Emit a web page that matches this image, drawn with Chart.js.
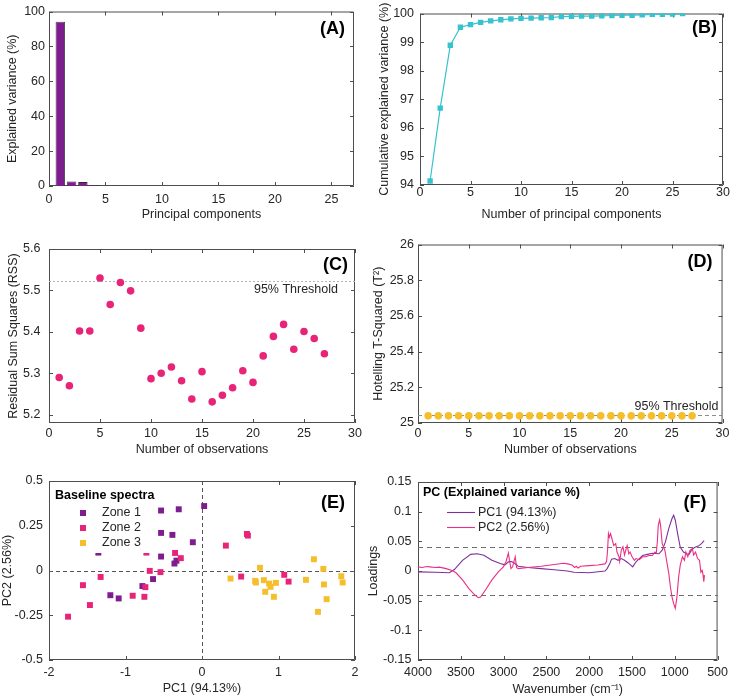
<!DOCTYPE html>
<html>
<head>
<meta charset="utf-8">
<script src="https://cdn.jsdelivr.net/npm/chart.js@4.4.1/dist/chart.umd.min.js"></script>
<style>
  html, body { margin: 0; padding: 0; background: #fff; }
  #fig { position: relative; width: 733px; height: 699px; overflow: hidden; background: #fff; }
  #fig canvas { position: absolute; }
</style>
</head>
<body>
<div id="fig">
  <canvas id="cA" width="366" height="233" style="left:0;top:0"></canvas>
  <canvas id="cB" width="367" height="233" style="left:366px;top:0"></canvas>
  <canvas id="cC" width="366" height="233" style="left:0;top:233px"></canvas>
  <canvas id="cD" width="367" height="233" style="left:366px;top:233px"></canvas>
  <canvas id="cE" width="366" height="233" style="left:0;top:466px"></canvas>
  <canvas id="cF" width="367" height="233" style="left:366px;top:466px"></canvas>
</div>
<script>
// ---- data ----
const pcIndex = [1, 2, 3, 4, 5, 6, 7, 8, 9, 10, 11, 12, 13, 14, 15, 16, 17, 18, 19, 20, 21, 22, 23, 24, 25, 26];
const explainedVar = [94.13, 2.56, 2.23, 0.63, 0.09, 0.08, 0.05, 0.04, 0.03, 0.02, 0.01, 0.01, 0.01, 0.03, 0.01, 0.01, 0.00, 0.01, 0.01, 0.01, 0.00, 0.01, 0.02, 0.00, 0.01, 0.02];
const cumulativeVar = [94.14, 96.69, 98.89, 99.52, 99.61, 99.69, 99.74, 99.78, 99.81, 99.83, 99.84, 99.85, 99.86, 99.89, 99.90, 99.91, 99.91, 99.92, 99.93, 99.94, 99.94, 99.95, 99.97, 99.97, 99.98, 100.0];

const obsIndex = [1, 2, 3, 4, 5, 6, 7, 8, 9, 10, 11, 12, 13, 14, 15, 16, 17, 18, 19, 20, 21, 22, 23, 24, 25, 26, 27];
const rss = [5.290, 5.270, 5.402, 5.402, 5.530, 5.466, 5.519, 5.499, 5.409, 5.287, 5.300, 5.315, 5.282, 5.238, 5.304, 5.231, 5.247, 5.265, 5.306, 5.278, 5.342, 5.389, 5.418, 5.358, 5.401, 5.384, 5.347];
const rssThreshold = 5.523;
const hotellingT2 = [25.04, 25.04, 25.04, 25.04, 25.04, 25.04, 25.04, 25.04, 25.04, 25.04, 25.04, 25.04, 25.04, 25.04, 25.04, 25.04, 25.04, 25.04, 25.04, 25.04, 25.04, 25.04, 25.04, 25.04, 25.04, 25.04, 25.04];
const t2Threshold = 25.043;

const zone1PC1 = [-0.535, -0.304, 0.028, -0.535, -0.387, -0.120, -1.355, -0.535, -0.360, -0.334, -0.640, -0.779, -1.198, -1.089];
const zone1PC2 = [0.335, 0.342, 0.360, 0.210, 0.199, 0.158, 0.100, 0.078, 0.039, 0.055, -0.048, -0.087, -0.138, -0.156];
const zone2PC1 = [-1.751, -1.556, -1.465, -1.325, -0.906, -0.753, -0.740, -0.727, -0.683, -0.543, -0.352, -0.277, 0.312, 0.587, 0.600, 0.512, 1.075, 1.132];
const zone2PC2 = [-0.258, -0.082, -0.193, -0.036, -0.141, -0.147, -0.093, 0.100, -0.002, -0.009, 0.098, 0.069, 0.139, 0.204, 0.195, -0.034, -0.024, -0.062];
const zone3PC1 = [0.757, 0.373, 0.695, 0.704, 0.809, 0.878, 0.966, 0.896, 0.826, 0.940, 1.359, 1.463, 1.586, 1.594, 1.629, 1.516, 1.821, 1.839];
const zone3PC2 = [0.015, -0.045, -0.058, -0.067, -0.054, -0.073, -0.069, -0.091, -0.119, -0.147, -0.052, 0.063, 0.009, -0.078, -0.160, -0.231, -0.032, -0.067];

const pc1Wave = [4000, 3800, 3633, 3575, 3480, 3384, 3308, 3231, 3136, 3040, 2983, 2944, 2906, 2868, 2830, 2715, 2562, 2409, 2256, 2179, 2000, 1815, 1790, 1760, 1739, 1701, 1663, 1625, 1587, 1548, 1491, 1453, 1414, 1376, 1319, 1261, 1185, 1147, 1109, 1070, 1032, 1013, 994, 963, 936, 898, 860, 833, 802, 764, 726, 688, 657];
const pc1Load = [-0.0015, -0.002, -0.003, 0.0025, 0.018, 0.028, 0.029, 0.0266, 0.018, 0.0126, 0.0103, 0.0154, 0.016, 0.0126, 0.008, 0.006, 0.004, 0.002, 0.0, -0.002, -0.003, 0.0, 0.004, 0.012, 0.020, 0.021, 0.018, 0.021, 0.018, 0.014, 0.007, 0.0155, 0.021, 0.026, 0.028, 0.030, 0.029, 0.035, 0.049, 0.072, 0.0885, 0.094, 0.0856, 0.060, 0.040, 0.032, 0.029, 0.028, 0.036, 0.040, 0.042, 0.046, 0.051];
const pc2Wave = [4000, 3950, 3900, 3862, 3800, 3750, 3671, 3594, 3556, 3480, 3403, 3346, 3296, 3269, 3212, 3136, 3059, 3002, 2971, 2944, 2929, 2914, 2895, 2876, 2864, 2849, 2830, 2715, 2562, 2409, 2300, 2250, 2200, 2170, 2150, 2130, 2100, 2000, 1900, 1815, 1797, 1785, 1775, 1765, 1751, 1728, 1713, 1690, 1675, 1652, 1644, 1625, 1606, 1587, 1567, 1556, 1537, 1522, 1499, 1472, 1453, 1414, 1376, 1338, 1300, 1261, 1231, 1216, 1204, 1193, 1177, 1166, 1147, 1116, 1089, 1070, 1051, 1032, 1013, 994, 975, 955, 936, 910, 887, 871, 848, 822, 795, 780, 757, 734, 711, 695, 680, 669, 661, 653];
const pc2Load = [0.007, 0.006, 0.0075, 0.007, 0.006, 0.0065, 0.004, 0.0005, -0.003, -0.015, -0.030, -0.039, -0.045, -0.044, -0.032, -0.015, -0.001, 0.007, 0.016, 0.030, 0.016, 0.004, 0.007, 0.018, 0.024, 0.006, 0.004, 0.006, 0.008, 0.011, 0.013, 0.012, 0.010, 0.006, 0.008, 0.005, 0.008, 0.009, 0.010, 0.012, 0.016, 0.035, 0.063, 0.057, 0.063, 0.051, 0.043, 0.046, 0.032, 0.024, 0.016, 0.035, 0.041, 0.027, 0.038, 0.043, 0.029, 0.032, 0.024, 0.018, 0.021, 0.019, 0.024, 0.024, 0.026, 0.026, 0.032, 0.030, 0.049, 0.077, 0.086, 0.077, 0.046, 0.035, 0.012, -0.004, -0.027, -0.044, -0.055, -0.063, -0.044, -0.010, 0.010, 0.024, 0.018, 0.032, 0.024, 0.035, 0.038, 0.027, 0.032, 0.021, 0.018, -0.002, 0.001, -0.007, -0.018, -0.007];
const loadingLimit = 0.04;

// tick values
const ticksA_x = [0, 5, 10, 15, 20, 25];
const ticksA_y = [0, 20, 40, 60, 80, 100];
const ticksObs_x = [0, 5, 10, 15, 20, 25, 30];
const ticksB_y = [94, 95, 96, 97, 98, 99, 100];
const ticksC_y = [5.2, 5.3, 5.4, 5.5, 5.6];
const ticksD_y = [25, 25.2, 25.4, 25.6, 25.8, 26];
const ticksE_x = [-2, -1, 0, 1, 2];
const ticksE_y = [-0.5, -0.25, 0, 0.25, 0.5];
const ticksF_x = [4000, 3500, 3000, 2500, 2000, 1500, 1000, 500];
const ticksF_y = [-0.15, -0.1, -0.05, 0, 0.05, 0.1, 0.15];

// ---- style ----
const FONT = '"Liberation Sans", Arial, Helvetica, sans-serif';
const TEXT = '#262626';
const AXIS = '#4d4d4d';
const PURPLE = '#7E1E8E';
const PINK = '#E82479';
const YELLOW = '#F5BE2B';
const CYAN = '#36C2CE';

Chart.defaults.font.family = FONT;
Chart.defaults.font.size = 12.5;
Chart.defaults.color = TEXT;
Chart.defaults.animation = false;
Chart.defaults.responsive = false;
Chart.defaults.plugins.legend.display = false;
Chart.defaults.plugins.tooltip.enabled = false;

function linScale(o) {
    return {
        type: 'linear',
        min: o.min, max: o.max,
        reverse: !!o.reverse,
        offset: false,
        afterBuildTicks: s => { s.ticks = o.ticks.map(v => ({ value: v })); },
        afterFit: s => { if (s.isHorizontal()) s.height = o.size; else s.width = o.size; },
        grid: { display: false, drawTicks: false, offset: false },
        border: { display: false },
        ticks: { padding: o.tickPad, color: TEXT, autoSkip: false, maxRotation: 0, callback: v => String(v) },
        title: { display: true, text: o.title, color: TEXT, padding: { top: o.titlePad, bottom: o.titlePad } }
    };
}

// MATLAB-like box with inward ticks on all four sides
const framePlugin = {
    id: 'frame',
    beforeDatasetsDraw(chart) {
        const { ctx, chartArea: a, scales: { x, y } } = chart;
        const len = 4;
        ctx.save();
        ctx.strokeStyle = AXIS;
        ctx.lineWidth = 1;
        ctx.beginPath();
        ctx.rect(a.left + 0.5, a.top + 0.5, a.width - 1, a.height - 1);
        x.ticks.forEach(t => {
            const px = Math.round(x.getPixelForValue(t.value)) + 0.5;
            ctx.moveTo(px, a.bottom); ctx.lineTo(px, a.bottom - len);
            ctx.moveTo(px, a.top); ctx.lineTo(px, a.top + len);
        });
        y.ticks.forEach(t => {
            const py = Math.round(y.getPixelForValue(t.value)) + 0.5;
            ctx.moveTo(a.left, py); ctx.lineTo(a.left + len, py);
            ctx.moveTo(a.right, py); ctx.lineTo(a.right - len, py);
        });
        ctx.stroke();
        ctx.restore();
    }
};

function panelLabel(text, dx, dy) {
    return {
        id: 'panelLabel',
        afterDraw(chart) {
            const { ctx, chartArea: a } = chart;
            ctx.save();
            ctx.font = 'bold 18px ' + FONT;
            ctx.fillStyle = '#000';
            ctx.textAlign = 'right';
            ctx.textBaseline = 'middle';
            ctx.fillText(text, a.right - dx, a.top + dy);
            ctx.restore();
        }
    };
}

function hLine(chart, value, color, dash, width) {
    const { ctx, chartArea: a, scales: { y } } = chart;
    const py = Math.round(y.getPixelForValue(value)) + 0.5;
    ctx.save();
    ctx.strokeStyle = color;
    ctx.lineWidth = width;
    ctx.setLineDash(dash);
    ctx.beginPath();
    ctx.moveTo(a.left, py);
    ctx.lineTo(a.right, py);
    ctx.stroke();
    ctx.restore();
    return py;
}

function thresholdText(chart, py, dx, dy) {
    const { ctx, chartArea: a } = chart;
    ctx.save();
    ctx.font = '12.5px ' + FONT;
    ctx.fillStyle = TEXT;
    ctx.textAlign = 'right';
    ctx.textBaseline = 'middle';
    ctx.fillText('95% Threshold', a.right - dx, py + dy);
    ctx.restore();
}

const xy = (xs, ys) => xs.map((v, i) => ({ x: v, y: ys[i] }));

// ---- (A) explained variance ----
new Chart(document.getElementById('cA'), {
    type: 'bar',
    data: {
        datasets: [{
            data: xy(pcIndex, explainedVar),
            backgroundColor: PURPLE,
            borderColor: '#2a2a2a',
            borderWidth: 0.8,
            barPercentage: 0.83,
            categoryPercentage: 1
        }]
    },
    options: {
        devicePixelRatio: 1,
        layout: { padding: { left: 0, right: 12, top: 9, bottom: 0 } },
        scales: {
            x: linScale({ min: 0, max: 27, ticks: ticksA_x, size: 47, tickPad: 6.5, titlePad: 10.5, title: 'Principal components' }),
            y: linScale({ min: 0, max: 100, ticks: ticksA_y, size: 49, tickPad: 4, titlePad: 5, title: 'Explained variance (%)' })
        }
    },
    plugins: [framePlugin, panelLabel('(A)', 9, 18)]
});

// ---- (B) cumulative explained variance ----
new Chart(document.getElementById('cB'), {
    type: 'line',
    data: {
        datasets: [{
            data: xy(pcIndex, cumulativeVar),
            borderColor: CYAN,
            backgroundColor: CYAN,
            borderWidth: 1.2,
            pointStyle: 'rect',
            pointRadius: 3.8,
            pointBorderWidth: 0,
            tension: 0
        }]
    },
    options: {
        devicePixelRatio: 1,
        layout: { padding: { left: 0, right: 10, top: 10, bottom: 0 } },
        scales: {
            x: linScale({ min: 0, max: 30, ticks: ticksObs_x, size: 48, tickPad: 0.5, titlePad: 10.5, title: 'Number of principal components' }),
            y: linScale({ min: 94, max: 100, ticks: ticksB_y, size: 54, tickPad: 6, titlePad: 11.5, title: 'Cumulative explained variance (%)' })
        }
    },
    plugins: [framePlugin, panelLabel('(B)', 6, 15)]
});

// ---- (C) residual sum of squares ----
new Chart(document.getElementById('cC'), {
    type: 'scatter',
    data: {
        datasets: [{
            data: xy(obsIndex, rss),
            backgroundColor: PINK,
            borderWidth: 0,
            pointRadius: 3.8
        }]
    },
    options: {
        devicePixelRatio: 1,
        layout: { padding: { left: 0, right: 11, top: 11, bottom: 0 } },
        scales: {
            x: linScale({ min: 0, max: 30, ticks: ticksObs_x, size: 43, tickPad: 3.5, titlePad: 8.5, title: 'Number of observations' }),
            y: linScale({ min: 5.18, max: 5.6, ticks: ticksC_y, size: 49, tickPad: 8.5, titlePad: 6, title: 'Residual Sum Squares (RSS)' })
        }
    },
    plugins: [framePlugin, {
        id: 'rssThreshold',
        beforeDatasetsDraw(chart) {
            const py = hLine(chart, rssThreshold, '#b5b5b5', [2, 2], 1);
            thresholdText(chart, py, 17, 8);
        }
    }, panelLabel('(C)', 7, 16)]
});

// ---- (D) Hotelling T2 ----
new Chart(document.getElementById('cD'), {
    type: 'scatter',
    data: {
        datasets: [{
            data: xy(obsIndex, hotellingT2),
            backgroundColor: YELLOW,
            borderWidth: 0,
            pointRadius: 3.8
        }]
    },
    options: {
        devicePixelRatio: 1,
        layout: { padding: { left: 0, right: 10, top: 11, bottom: 0 } },
        scales: {
            x: linScale({ min: 0, max: 30, ticks: ticksObs_x, size: 43, tickPad: 3.5, titlePad: 8.5, title: 'Number of observations' }),
            y: linScale({ min: 25, max: 26, ticks: ticksD_y, size: 52, tickPad: 4, titlePad: 5, title: 'Hotelling T-Squared (T²)' })
        }
    },
    plugins: [framePlugin, {
        id: 't2Threshold',
        beforeDatasetsDraw(chart) {
            const py = hLine(chart, t2Threshold, '#8c8c8c', [4, 3], 1);
            thresholdText(chart, py, 4, -9);
        }
    }, panelLabel('(D)', 10, 18)]
});

// ---- (E) score plot ----
new Chart(document.getElementById('cE'), {
    type: 'scatter',
    data: {
        datasets: [
            { label: 'Zone 1', data: xy(zone1PC1, zone1PC2), backgroundColor: PURPLE, order: 3 },
            { label: 'Zone 2', data: xy(zone2PC1, zone2PC2), backgroundColor: PINK, order: 2 },
            { label: 'Zone 3', data: xy(zone3PC1, zone3PC2), backgroundColor: YELLOW, order: 1 }
        ]
    },
    options: {
        devicePixelRatio: 1,
        layout: { padding: { left: 0, right: 11, top: 15, bottom: 0 } },
        elements: { point: { pointStyle: 'rect', radius: 4.2, borderWidth: 0 } },
        scales: {
            x: linScale({ min: -2, max: 2, ticks: ticksE_x, size: 39, tickPad: 5.5, titlePad: 2.5, title: 'PC1 (94.13%)' }),
            y: linScale({ min: -0.5, max: 0.5, ticks: ticksE_y, size: 49, tickPad: 6, titlePad: 0, title: 'PC2 (2.56%)' })
        }
    },
    plugins: [framePlugin, {
        id: 'crossLines',
        beforeDatasetsDraw(chart) {
            const { ctx, chartArea: a, scales: { x } } = chart;
            hLine(chart, 0, '#555', [4, 3], 1);
            const px = Math.round(x.getPixelForValue(0)) + 0.5;
            ctx.save();
            ctx.strokeStyle = '#555';
            ctx.setLineDash([4, 3]);
            ctx.beginPath();
            ctx.moveTo(px, a.top);
            ctx.lineTo(px, a.bottom);
            ctx.stroke();
            ctx.restore();
        },
        afterDatasetsDraw(chart) {
            const { ctx, chartArea: a } = chart;
            ctx.save();
            ctx.fillStyle = '#fff';
            ctx.fillRect(a.left + 1, a.top + 1, 104, 71);
            ctx.textBaseline = 'middle';
            ctx.fillStyle = '#000';
            ctx.font = 'bold 12.5px ' + FONT;
            ctx.fillText('Baseline spectra', a.left + 6, a.top + 15);
            ctx.font = '12.5px ' + FONT;
            chart.data.datasets.forEach((ds, i) => {
                const ly = a.top + 32 + i * 15;
                ctx.fillStyle = ds.backgroundColor;
                ctx.fillRect(a.left + 31, ly - 3, 6, 6);
                ctx.fillStyle = TEXT;
                ctx.fillText(ds.label, a.left + 53, ly);
            });
            ctx.restore();
        }
    }, panelLabel('(E)', 10, 22)]
});

// ---- (F) loadings ----
new Chart(document.getElementById('cF'), {
    type: 'line',
    data: {
        datasets: [
            { label: 'PC1 (94.13%)', data: xy(pc1Wave, pc1Load), borderColor: '#7E2F9E', borderWidth: 1.1, pointRadius: 0, tension: 0, order: 2 },
            { label: 'PC2 (2.56%)', data: xy(pc2Wave, pc2Load), borderColor: '#EC2F82', borderWidth: 1.1, pointRadius: 0, tension: 0, order: 1 }
        ]
    },
    options: {
        devicePixelRatio: 1,
        layout: { padding: { left: 0, right: 10, top: 16, bottom: 0 } },
        scales: {
            x: linScale({ min: 500, max: 4000, reverse: true, ticks: ticksF_x, size: 39, tickPad: 5, titlePad: 1.5, title: 'Wavenumber (cm⁻¹)' }),
            y: linScale({ min: -0.15, max: 0.15, ticks: ticksF_y, size: 52, tickPad: 6.5, titlePad: 0, title: 'Loadings' })
        }
    },
    plugins: [framePlugin, {
        id: 'limits',
        beforeDatasetsDraw(chart) {
            hLine(chart, loadingLimit, '#6e6e6e', [5, 4], 1.2);
            hLine(chart, -loadingLimit, '#6e6e6e', [5, 4], 1.2);
        },
        afterDatasetsDraw(chart) {
            const { ctx, chartArea: a } = chart;
            ctx.save();
            ctx.textBaseline = 'middle';
            ctx.fillStyle = '#000';
            ctx.font = 'bold 12.5px ' + FONT;
            ctx.fillText('PC (Explained variance %)', a.left + 5, a.top + 11);
            ctx.font = '12.5px ' + FONT;
            chart.data.datasets.forEach((ds, i) => {
                const ly = Math.round(a.top + 30 + i * 15) + 0.5;
                ctx.strokeStyle = ds.borderColor;
                ctx.lineWidth = 1.1;
                ctx.beginPath();
                ctx.moveTo(a.left + 29, ly);
                ctx.lineTo(a.left + 57, ly);
                ctx.stroke();
                ctx.fillStyle = TEXT;
                ctx.fillText(ds.label, a.left + 60, ly);
            });
            ctx.restore();
        }
    }, panelLabel('(F)', 11, 21)]
});
</script>
</body>
</html>
